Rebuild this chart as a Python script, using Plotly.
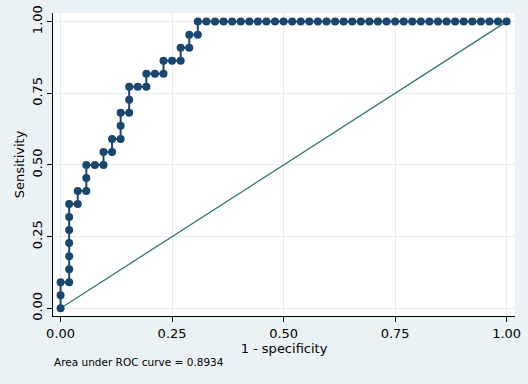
import plotly.graph_objects as go

# ROC curve points: 1 - specificity (x) and sensitivity (y)
fpr = [0.0, 0.0, 0.0, 0.0192, 0.0192, 0.0192, 0.0192, 0.0192, 0.0192, 0.0192,
       0.0385, 0.0385, 0.0577, 0.0577, 0.0577, 0.0769, 0.0962, 0.0962, 0.1154, 0.1154,
       0.1346, 0.1346, 0.1346, 0.1538, 0.1538, 0.1538, 0.1731, 0.1923, 0.1923, 0.2115,
       0.2308, 0.2308, 0.25, 0.2692, 0.2692, 0.2885, 0.2885, 0.3077, 0.3077,
       0.3269, 0.3462, 0.3654, 0.3846, 0.4038, 0.4231, 0.4423, 0.4615, 0.4808, 0.5,
       0.5192, 0.5385, 0.5577, 0.5769, 0.5962, 0.6154, 0.6346, 0.6538, 0.6731, 0.6923,
       0.7115, 0.7308, 0.75, 0.7692, 0.7885, 0.8077, 0.8269, 0.8462, 0.8654, 0.8846,
       0.9038, 0.9231, 0.9423, 0.9615, 0.9808, 1.0]
sens = [0.0, 0.0455, 0.0909, 0.0909, 0.1364, 0.1818, 0.2273, 0.2727, 0.3182, 0.3636,
        0.3636, 0.4091, 0.4091, 0.4545, 0.5, 0.5, 0.5, 0.5455, 0.5455, 0.5909,
        0.5909, 0.6364, 0.6818, 0.6818, 0.7273, 0.7727, 0.7727, 0.7727, 0.8182, 0.8182,
        0.8182, 0.8636, 0.8636, 0.8636, 0.9091, 0.9091, 0.9545, 0.9545, 1.0,
        1.0, 1.0, 1.0, 1.0, 1.0, 1.0, 1.0, 1.0, 1.0, 1.0,
        1.0, 1.0, 1.0, 1.0, 1.0, 1.0, 1.0, 1.0, 1.0, 1.0,
        1.0, 1.0, 1.0, 1.0, 1.0, 1.0, 1.0, 1.0, 1.0, 1.0,
        1.0, 1.0, 1.0, 1.0, 1.0, 1.0]
ref_x = [0.0, 1.0]
ref_y = [0.0, 1.0]
tick_vals = [0.0, 0.25, 0.5, 0.75, 1.0]
tick_text = ["0.00", "0.25", "0.50", "0.75", "1.00"]
auc_text = "Area under ROC curve = 0.8934"

BG = "#EAF2F3"
GRID = "#E4ECEE"
NAVY = "#1A476F"
TEAL = "#2F7A6C"
FONT = "DejaVu Sans"

fig = go.Figure()
fig.add_trace(go.Scatter(x=ref_x, y=ref_y, mode="lines",
                         line=dict(color=TEAL, width=1.3), hoverinfo="skip"))
fig.add_trace(go.Scatter(x=fpr, y=sens, mode="lines+markers",
                         line=dict(color=NAVY, width=2),
                         marker=dict(color=NAVY, size=8, line=dict(width=0))))

fig.update_layout(
    width=528, height=384,
    paper_bgcolor=BG, plot_bgcolor="white",
    showlegend=False,
    margin=dict(l=53, r=13, t=13, b=68),
    font=dict(family=FONT, color="#000000", size=13),
    xaxis=dict(range=[-0.017, 1.0188], tickvals=tick_vals, ticktext=tick_text,
               automargin=False,
               showgrid=True, gridcolor=GRID, gridwidth=1, zeroline=False,
               showline=True, linecolor="#000000", linewidth=1.2,
               ticks="outside", ticklen=5, tickcolor="#000000",
               tickfont=dict(size=13, family=FONT),
               title=dict(text="1 - specificity", font=dict(size=13, family=FONT), standoff=0)),
    yaxis=dict(range=[-0.0269, 1.030], tickvals=tick_vals, ticktext=tick_text,
               automargin=False,
               showgrid=True, gridcolor=GRID, gridwidth=1, zeroline=False,
               showline=True, linecolor="#000000", linewidth=1.2,
               ticks="outside", ticklen=5, tickcolor="#000000", tickangle=-90,
               tickfont=dict(size=13, family=FONT),
               title=dict(text="Sensitivity", font=dict(size=13, family=FONT), standoff=2)),
    annotations=[dict(text=auc_text, xref="paper", yref="paper",
                      x=-0.003, y=-0.124, xanchor="left", yanchor="top",
                      showarrow=False, font=dict(size=10.5, family=FONT))],
)

fig.write_html("out.html",
               config={"displayModeBar": False},
               post_script="document.body.style.margin='0';"
                           "document.body.style.background='" + BG + "';")
